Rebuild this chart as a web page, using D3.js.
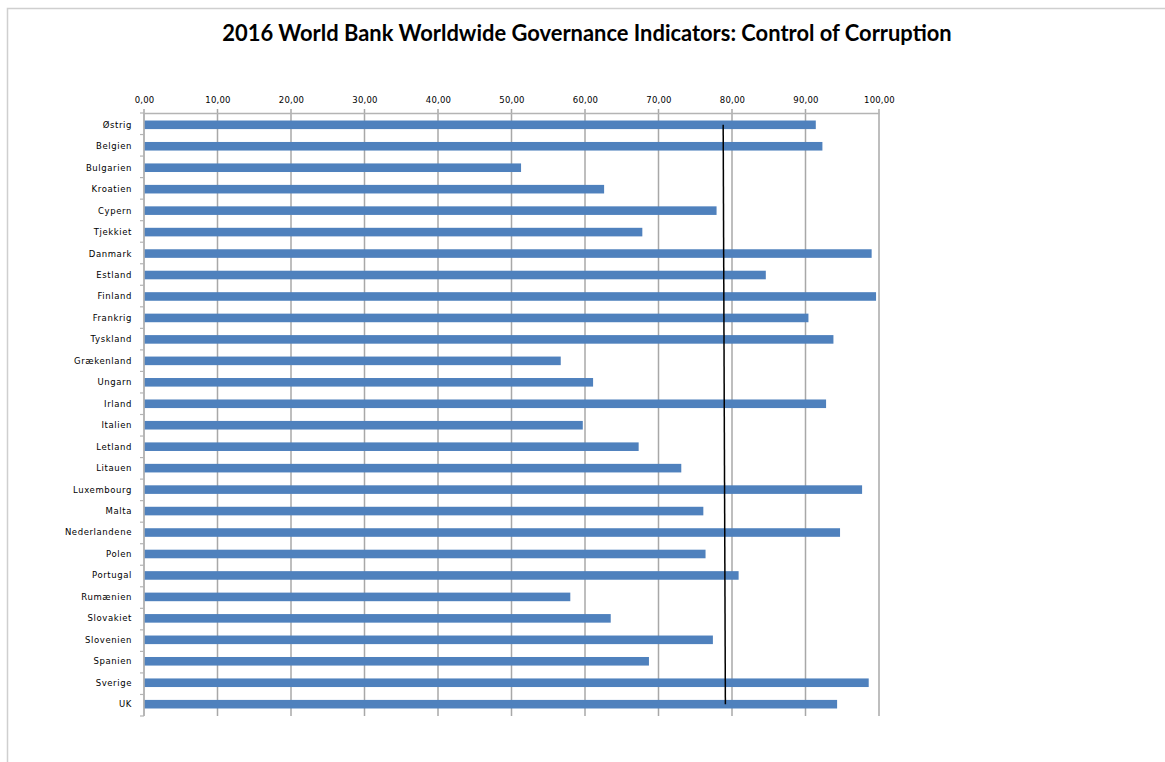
<!DOCTYPE html>
<html>
<head>
<meta charset="utf-8">
<script src="https://cdn.jsdelivr.net/npm/d3@7"></script>
<style>
  html, body { margin: 0; padding: 0; background: #fff; }
  svg { display: block; }
</style>
</head>
<body>
<svg id="chart"></svg>
<script>
const countries = ['Østrig', 'Belgien', 'Bulgarien', 'Kroatien', 'Cypern', 'Tjekkiet', 'Danmark',
  'Estland', 'Finland', 'Frankrig', 'Tyskland', 'Grækenland', 'Ungarn', 'Irland', 'Italien',
  'Letland', 'Litauen', 'Luxembourg', 'Malta', 'Nederlandene', 'Polen', 'Portugal', 'Rumænien',
  'Slovakiet', 'Slovenien', 'Spanien', 'Sverige', 'UK'];
const scores = [91.4, 92.3, 51.3, 62.6, 77.9, 67.8, 99.0, 84.6, 99.6, 90.4, 93.8, 56.7, 61.1, 92.8,
  59.7, 67.3, 73.1, 97.7, 76.1, 94.7, 76.4, 80.9, 58.0, 63.5, 77.4, 68.7, 98.6, 94.3];
// reference line: value at first and at last category
const refLine = [78.8, 79.1];
const xTicks = [0, 10, 20, 30, 40, 50, 60, 70, 80, 90, 100];
const title = '2016 World Bank Worldwide Governance Indicators: Control of Corruption';

const width = 1165;
const height = 762;
const margin = { top: 113, left: 144, right: 286, bottom: 46 };
const w = width - margin.left - margin.right;
const h = height - margin.top - margin.bottom;

const svg = d3.select('#chart')
  .attr('width', width)
  .attr('height', height);

// outer frame (only top and left edges visible)
svg.append('path')
  .attr('d', `M7.5,${height} V8.5 H${width}`)
  .attr('fill', 'none')
  .attr('stroke', '#cfcfcf')
  .attr('stroke-width', 1.5);

// Title, sized to the reference span
const titleEl = svg.append('text')
  .attr('x', 587)
  .attr('y', 41)
  .attr('text-anchor', 'middle')
  .attr('font-family', 'Lato, "Open Sans", sans-serif')
  .attr('font-weight', 'bold')
  .attr('font-size', 20)
  .attr('fill', '#000')
  .text(title);
const tw = titleEl.node().getComputedTextLength();
titleEl.attr('font-size', 20 * 730 / tw);

const g = svg.append('g')
  .attr('transform', `translate(${margin.left},${margin.top})`);

const x = d3.scaleLinear()
  .domain([0, 100])
  .range([0, w]);

const y = d3.scaleBand()
  .domain(countries)
  .range([0, h])
  .paddingInner(0.6)
  .paddingOuter(0.35);

// gridlines
g.append('g')
  .selectAll('line')
  .data(xTicks)
  .join('line')
  .attr('x1', d => x(d))
  .attr('x2', d => x(d))
  .attr('y1', -4)
  .attr('y2', h)
  .attr('stroke', '#a8a8a8')
  .attr('stroke-width', 1.5);

// top axis
const xAxis = g.append('g')
  .call(d3.axisTop(x)
    .tickValues(xTicks)
    .tickSize(4)
    .tickSizeOuter(0)
    .tickFormat(d => d3.format('.2f')(d).replace('.', ',')));
xAxis.select('.domain')
  .attr('stroke', '#b4b4b4')
  .attr('stroke-width', 1.5);
xAxis.selectAll('.tick line').remove();
xAxis.selectAll('.tick text')
  .attr('y', -10)
  .attr('font-family', '"DejaVu Sans", sans-serif')
  .attr('font-size', 8.5)
  .attr('letter-spacing', 0.2)
  .attr('fill', '#000');

// bars
g.append('g')
  .selectAll('rect')
  .data(countries)
  .join('rect')
  .attr('x', 0)
  .attr('y', d => y(d))
  .attr('width', (d, i) => x(scores[i]))
  .attr('height', y.bandwidth())
  .attr('fill', '#4f81bd');

// left axis with ticks at category boundaries
const yAxis = g.append('g');
yAxis.append('line')
  .attr('x1', 0).attr('x2', 0)
  .attr('y1', 0).attr('y2', h)
  .attr('stroke', '#b4b4b4')
  .attr('stroke-width', 1.5);
yAxis.selectAll('.btick')
  .data(d3.range(countries.length + 1))
  .join('line')
  .attr('class', 'btick')
  .attr('x1', -4).attr('x2', 0)
  .attr('y1', i => i * (h / countries.length))
  .attr('y2', i => i * (h / countries.length))
  .attr('stroke', '#b4b4b4')
  .attr('stroke-width', 1.2);
yAxis.selectAll('.lbl')
  .data(countries)
  .join('text')
  .attr('class', 'lbl')
  .attr('x', -12)
  .attr('y', d => y(d) + y.bandwidth() / 2)
  .attr('dy', '0.35em')
  .attr('text-anchor', 'end')
  .attr('font-family', '"DejaVu Sans", sans-serif')
  .attr('font-size', 8.5)
  .attr('letter-spacing', 0.6)
  .attr('fill', '#000')
  .text(d => d);

// reference line through the bars
const first = countries[0];
const last = countries[countries.length - 1];
g.append('line')
  .attr('x1', x(refLine[0]))
  .attr('x2', x(refLine[1]))
  .attr('y1', y(first) + y.bandwidth() / 2)
  .attr('y2', y(last) + y.bandwidth() / 2)
  .attr('stroke', '#000')
  .attr('stroke-width', 1.5);
</script>
</body>
</html>
